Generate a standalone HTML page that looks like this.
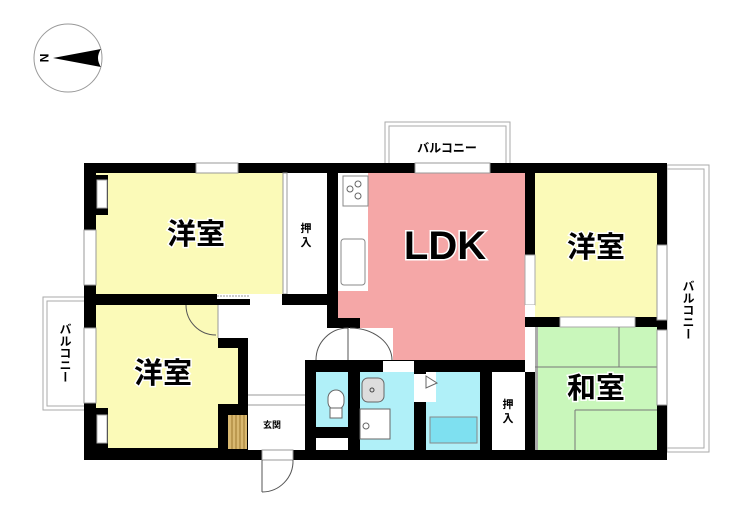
<!DOCTYPE html>
<html><head><meta charset="utf-8"><style>
html,body{margin:0;padding:0;background:#fff;}
svg{display:block;}
text{font-family:"Liberation Sans","Noto Sans CJK JP",sans-serif;font-weight:bold;}
</style></head><body>
<svg width="740" height="516" viewBox="0 0 740 516" xmlns="http://www.w3.org/2000/svg">
<!-- compass -->
<circle cx="68" cy="58" r="34" fill="#fff" stroke="#999" stroke-width="1"/>
<polygon points="53,58 101,49 101,67" fill="#000"/>
<path d="M101,49 Q95,58 101,67" fill="#fff"/>
<text x="44" y="58" font-size="12" font-family="Liberation Serif" transform="rotate(90 44 58)" text-anchor="middle" dy="4">N</text>

<!-- balconies -->
<g fill="none" stroke="#aaa" stroke-width="1">
<rect x="385" y="122" width="125" height="45"/><rect x="389" y="126" width="117" height="40"/>
<rect x="667" y="165" width="42" height="287"/><rect x="667" y="169" width="37" height="279"/>
<rect x="43" y="297" width="45" height="113"/><rect x="47" y="301" width="40" height="105"/>
</g>
<text x="447" y="152" font-size="12" text-anchor="middle">バルコニー</text>
<text x="688" y="310" font-size="12" text-anchor="middle" writing-mode="tb">バルコニー</text>
<text x="65" y="353" font-size="12" text-anchor="middle" writing-mode="tb">バルコニー</text>

<!-- outer wall base -->
<rect x="84" y="163" width="583" height="297" fill="#000"/>

<!-- rooms -->
<rect x="96" y="173" width="187" height="121" fill="#fbfab8"/>
<rect x="285" y="173" width="42" height="121" fill="#fff"/>
<rect x="338" y="173" width="187" height="145" fill="#f5a7a7"/>
<rect x="360" y="173" width="165" height="187" fill="#f5a7a7"/>
<rect x="338" y="173" width="30" height="118" fill="#fff"/>
<rect x="535" y="173" width="122" height="144" fill="#fbfab8"/>
<rect x="535" y="327" width="122" height="123" fill="#c9f7bb"/>
<rect x="492" y="372" width="33" height="78" fill="#fff"/>
<rect x="426" y="372" width="54" height="78" fill="#b0f0f8"/>
<rect x="426" y="372" width="10" height="30" fill="#fff"/>
<rect x="360" y="372" width="54" height="78" fill="#b0f0f8"/>
<rect x="316" y="372" width="32" height="55" fill="#b0f0f8"/>
<rect x="316" y="438" width="32" height="12" fill="#fff"/>
<rect x="96" y="305" width="142" height="143" fill="#fbfab8"/>
<!-- hallway -->
<rect x="218" y="305" width="30" height="33" fill="#fff"/>
<rect x="248" y="305" width="57" height="145" fill="#fff"/>
<rect x="305" y="305" width="22" height="55" fill="#fff"/>
<rect x="305" y="328" width="88" height="32" fill="#fff"/>
<rect x="327" y="305" width="11" height="13" fill="#000"/>
<rect x="327" y="318" width="33" height="10" fill="#000"/>
<!-- lower-left room notch -->
<rect x="218" y="338" width="30" height="10" fill="#000"/>
<rect x="238" y="338" width="10" height="112" fill="#000"/>
<rect x="218" y="404" width="30" height="11" fill="#000"/>
<rect x="218" y="415" width="10" height="35" fill="#000"/>
<rect x="228" y="415" width="19" height="34" fill="#d9b870"/>
<g stroke="#a07a30" stroke-width="1"><line x1="232" y1="415" x2="232" y2="449"/><line x1="236" y1="415" x2="236" y2="449"/><line x1="240" y1="415" x2="240" y2="449"/><line x1="244" y1="415" x2="244" y2="449"/></g>
<!-- genkan lines -->
<line x1="248" y1="395" x2="305" y2="395" stroke="#999"/>
<line x1="248" y1="405" x2="305" y2="405" stroke="#999"/>
<text x="272" y="428" font-size="9" text-anchor="middle">玄関</text>
<!-- toilet block walls -->
<rect x="305" y="360" width="11" height="100" fill="#000"/>
<rect x="348" y="360" width="12" height="100" fill="#000"/>
<rect x="305" y="360" width="230" height="12" fill="#000"/>
<rect x="316" y="427" width="32" height="11" fill="#000"/>
<rect x="383" y="361" width="31" height="11" fill="#fff"/>
<rect x="414" y="372" width="12" height="78" fill="#000"/>
<rect x="414" y="374" width="12" height="28" fill="#fff"/>
<rect x="480" y="372" width="12" height="78" fill="#000"/>
<!-- wc, sink, tub -->
<rect x="328" y="390" width="16" height="20" rx="8" fill="#fff" stroke="#666"/>
<rect x="330" y="408" width="12" height="10" fill="#fff" stroke="#666"/>
<rect x="362" y="378" width="22" height="24" rx="6" fill="#ddd" stroke="#666"/>
<circle cx="372" cy="390" r="2" fill="none" stroke="#444"/>
<rect x="360" y="409" width="30" height="30" fill="#fff" stroke="#666"/>
<circle cx="366" cy="426" r="3" fill="none" stroke="#666"/>
<rect x="430" y="417" width="47" height="26" fill="#7ee0f0" stroke="#888"/>
<polygon points="426,376 437,383 426,388" fill="#fff" stroke="#666"/>
<!-- interior walls -->
<rect x="283" y="173" width="4" height="121" fill="#fff" stroke="#999"/>
<rect x="327" y="173" width="11" height="132" fill="#000"/>
<rect x="84" y="294" width="133" height="11" fill="#000"/>
<rect x="217" y="294" width="33" height="5" fill="#fff"/>
<rect x="217" y="299" width="33" height="6" fill="#000"/>
<line x1="217" y1="296" x2="250" y2="296" stroke="#999" stroke-dasharray="2,1"/>
<rect x="250" y="294" width="32" height="11" fill="#fff"/>
<rect x="282" y="294" width="56" height="11" fill="#000"/>
<line x1="218" y1="305" x2="218" y2="338" stroke="#999"/>
<rect x="525" y="173" width="10" height="82" fill="#000"/>
<rect x="525" y="255" width="10" height="50" fill="#fff" stroke="#aaa"/>
<rect x="525" y="305" width="10" height="67" fill="#fff"/>
<rect x="525" y="317" width="132" height="10" fill="#000"/>
<rect x="560" y="317" width="75" height="10" fill="#fff" stroke="#aaa"/>
<rect x="535" y="327" width="3" height="123" fill="#aaa"/>
<!-- tatami lines -->
<g stroke="#777" stroke-width="1">
<line x1="535" y1="367" x2="657" y2="367"/><line x1="619" y1="327" x2="619" y2="367"/>
<line x1="575" y1="410" x2="657" y2="410"/><line x1="575" y1="410" x2="575" y2="450"/>
</g>
<!-- kitchen -->
<rect x="343" y="176" width="25" height="30" fill="#fff" stroke="#888"/>
<circle cx="350" cy="189" r="3" fill="none" stroke="#666"/><circle cx="358" cy="184" r="3" fill="none" stroke="#666"/><circle cx="358" cy="196" r="3" fill="none" stroke="#666"/>
<rect x="341" y="239" width="24" height="46" rx="3" fill="#fff" stroke="#888"/>
<!-- windows -->
<g fill="#fff" stroke="#999">
<rect x="196" y="163" width="42" height="10"/>
<rect x="415" y="163" width="75" height="10"/>
<rect x="84" y="230" width="12" height="55"/>
<rect x="84" y="328" width="12" height="75"/>
<rect x="657" y="245" width="10" height="75"/>
<rect x="657" y="330" width="10" height="75"/>
<rect x="262" y="450" width="31" height="10"/>
</g>
<rect x="84" y="175" width="12" height="40" fill="#000"/>
<rect x="84" y="408" width="12" height="40" fill="#000"/>
<rect x="96" y="175" width="12" height="40" fill="#000"/>
<rect x="96" y="408" width="12" height="40" fill="#000"/>
<rect x="97" y="180" width="10" height="28" fill="#fff" stroke="#aaa"/>
<rect x="97" y="415" width="10" height="28" fill="#fff" stroke="#aaa"/>
<!-- door arcs -->
<g fill="none" stroke="#555">
<path d="M186,305 A30,30 0 0 0 216,335"/>
<path d="M316,360 A32,32 0 0 1 348,328 L348,360"/>
<path d="M350,328 A42,32 0 0 1 392,360"/>
<path d="M262,492 A31,31 0 0 0 293,460"/><line x1="262" y1="460" x2="262" y2="492"/>
</g>
<!-- labels -->
<g fill="#000" stroke="#fff" stroke-width="3" paint-order="stroke">
<text x="196" y="244" font-size="29" text-anchor="middle">洋室</text>
<text x="163" y="383" font-size="29" text-anchor="middle">洋室</text>
<text x="445" y="259" font-size="40" text-anchor="middle">LDK</text>
<text x="596" y="257" font-size="29" text-anchor="middle">洋室</text>
<text x="596" y="398" font-size="29" text-anchor="middle">和室</text>
</g>
<text x="306" y="232" font-size="11" text-anchor="middle">押</text>
<text x="306" y="246" font-size="11" text-anchor="middle">入</text>
<text x="508" y="408" font-size="11" text-anchor="middle">押</text>
<text x="508" y="422" font-size="11" text-anchor="middle">入</text>
</svg>
</body></html>
